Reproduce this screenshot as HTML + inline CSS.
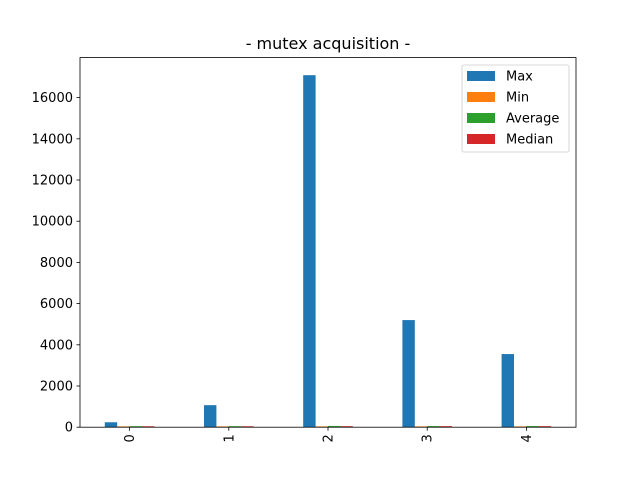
<!DOCTYPE html>
<html><head><meta charset="utf-8"><style>
body{margin:0;background:#fff;font-family:"Liberation Sans","DejaVu Sans",sans-serif}
</style></head><body>
<svg id="chart" width="640" height="480" xmlns="http://www.w3.org/2000/svg" font-family="DejaVu Sans, Liberation Sans, sans-serif">
<rect width="640" height="480" fill="#fff"/>
<text x="328" y="49" text-anchor="middle" font-size="16">- mutex acquisition -</text>
<g id="bars"></g>
<g id="axes"></g>
</svg>
<script>
const categories = ["0","1","2","3","4"];
const seriesNames = ["Max","Min","Average","Median"];
const maxValues = [240, 1070, 17088, 5200, 3550];
const minValues = [40, 40, 40, 40, 40];
const avgValues = [50, 50, 60, 55, 55];
const medianValues = [45, 45, 50, 50, 50];
const yTicks = [0,2000,4000,6000,8000,10000,12000,14000,16000];
const colors = ["#1f77b4","#ff7f0e","#2ca02c","#d62728"];
const series = [maxValues, minValues, avgValues, medianValues];

const L=80,R=576,T=57.6,B=427.2;
const yMax = Math.max(...maxValues)*1.05;
const x = v => L + (v+0.5)/categories.length*(R-L);
const y = v => B - v/yMax*(B-T);
const ns="http://www.w3.org/2000/svg";
const bars=document.getElementById('bars'), axes=document.getElementById('axes');
function mk(tag,attrs,parent){const e=document.createElementNS(ns,tag);for(const k in attrs)e.setAttribute(k,attrs[k]);parent.appendChild(e);return e;}

series.forEach((vals,si)=>{
  vals.forEach((v,ci)=>{
    const x0=x(ci-0.25+si*0.125), x1=x(ci-0.25+(si+1)*0.125);
    const r=mk('rect',{x:x0,y:y(v),width:x1-x0,height:B-y(v),fill:colors[si]},bars);
    
    
  });
});
const frame=mk('rect',{x:L,y:T,width:R-L,height:B-T,fill:'none',stroke:'#000','stroke-width':0.8},axes);


yTicks.forEach(t=>{
  const yy=y(t);
  mk('line',{x1:L-3.5,x2:L,y1:yy,y2:yy,stroke:'#000','stroke-width':0.8},axes);
  const tx=mk('text',{x:L-7,y:yy+4.5,'text-anchor':'end','font-size':13},axes);
  tx.textContent=t;
  
  
});
categories.forEach((c,i)=>{
  const xx=x(i);
  mk('line',{x1:xx,x2:xx,y1:B,y2:B+3.5,stroke:'#000','stroke-width':0.8},axes);
  const tx=mk('text',{x:xx+4.5,y:B+7,'text-anchor':'end','font-size':13,transform:`rotate(-90 ${xx+4.5} ${B+7})`},axes);
  tx.textContent=c;
  
  
});
const lg=mk('g',{},axes);


mk('rect',{x:462,y:65,width:107,height:87,rx:2,fill:'#fff','fill-opacity':0.8,stroke:'#ccc','stroke-width':0.8},lg);
seriesNames.forEach((n,i)=>{
  const yy=71+i*21;
  const sw=mk('rect',{x:467,y:yy,width:28,height:10,fill:colors[i]},lg);
  
  
  const t=mk('text',{x:506,y:yy+9.5,'font-size':13},lg);
  t.textContent=n;
  
  
});
</script>
</body></html>
